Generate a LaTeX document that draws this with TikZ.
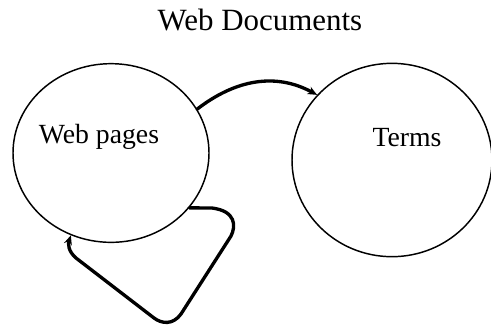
\documentclass[tikz,border=0pt]{standalone}
\usepackage{fontspec}
\setmainfont{Liberation Serif}
\usetikzlibrary{shapes.geometric,arrows.meta}

\begin{document}
\begin{tikzpicture}[x=0.75pt,y=0.75pt,yscale=-1,
    set/.style={draw,ellipse,line width=1.1pt,inner sep=0pt},
    link/.style={line width=2.5pt,line cap=round,line join=round,-{Stealth[length=7pt,width=6pt]}}]
\useasboundingbox (0,0) rectangle (491,326);

%Shape: Ellipse [id:pages]
\node [set,minimum width=147pt,minimum height=134pt] (pages) at (111,153) {};
%Shape: Ellipse [id:terms]
\node [set,minimum width=150pt,minimum height=145pt] (terms) at (392,160) {};

%Curve Lines [id:link]
\draw [link] (pages.27) .. controls (235,80) and (275,72) .. (terms.139) ;
%Curve Lines [id:loop]
\draw [link] (pages.-35) -- (212,208) .. controls (236,211) and (236,226) .. (231,236) -- (181,314) .. controls (173,325) and (162,324) .. (154,318) -- (76,258) .. controls (68,251) and (68,244) .. (pages.-116) ;

% Text Node
\node [font=\fontsize{23.2}{27}\selectfont] (title) at (260,20) {Web Documents};
% Text Node
\node [font=\fontsize{20.8}{24}\selectfont] (pageslabel) at (99,137) {Web pages};
% Text Node
\node [font=\fontsize{20.8}{24}\selectfont] (termslabel) at (407,138) {Terms};

\end{tikzpicture}
\end{document}
